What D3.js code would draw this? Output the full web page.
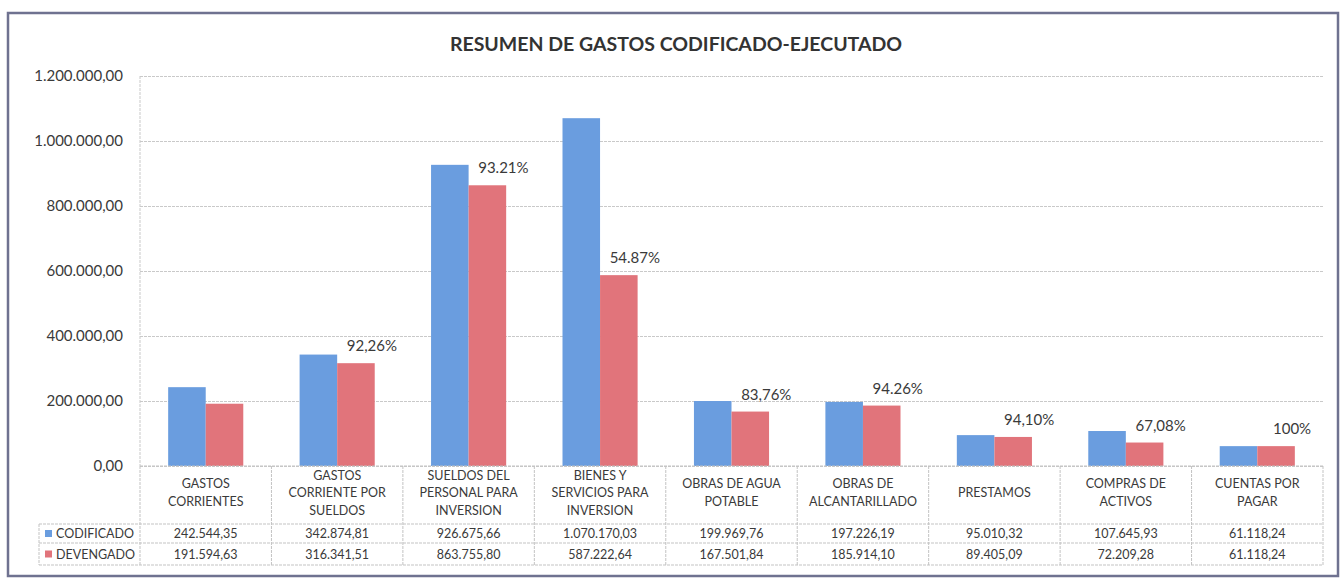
<!DOCTYPE html>
<html>
<head>
<meta charset="utf-8">
<script src="https://cdn.jsdelivr.net/npm/d3@7"></script>
<style>
  body { margin: 0; background: #fff; }
  text { font-family: Lato, "Open Sans", sans-serif; fill: #3a3a3a; }
</style>
</head>
<body>
<div id="chart"></div>
<script>
// chart data
var categories = [
  ["GASTOS", "CORRIENTES"],
  ["GASTOS", "CORRIENTE POR", "SUELDOS"],
  ["SUELDOS DEL", "PERSONAL PARA", "INVERSION"],
  ["BIENES Y", "SERVICIOS PARA", "INVERSION"],
  ["OBRAS DE AGUA", "POTABLE"],
  ["OBRAS DE", "ALCANTARILLADO"],
  ["PRESTAMOS"],
  ["COMPRAS DE", "ACTIVOS"],
  ["CUENTAS POR", "PAGAR"]
];
var seriesNames = ["CODIFICADO", "DEVENGADO"];
var codificado = [242544.35, 342874.81, 926675.66, 1070170.03, 199969.76, 197226.19, 95010.32, 107645.93, 61118.24];
var devengado = [191594.63, 316341.51, 863755.80, 587222.64, 167501.84, 185914.10, 89405.09, 72209.28, 61118.24];
var pctLabels = ["", "92,26%", "93.21%", "54.87%", "83,76%", "94.26%", "94,10%", "67,08%", "100%"];
var yTicks = [0, 200000, 400000, 600000, 800000, 1000000, 1200000];
var title = "RESUMEN DE GASTOS CODIFICADO-EJECUTADO";

var colors = ["#6a9ddf", "#e1747b"];

var W = 1343, H = 578;
var svg = d3.select("#chart")
            .append("svg")
            .attr("width", W)
            .attr("height", H);

// outer frame
svg.append("rect")
   .attr("x", 8).attr("y", 13)
   .attr("width", 1330).attr("height", 563)
   .attr("fill", "#fff")
   .attr("stroke", "#6f7290")
   .attr("stroke-width", 2.5);

// title
svg.append("text")
   .attr("x", 676)
   .attr("y", 51)
   .style("text-anchor", "middle")
   .style("font-size", "19.5px")
   .style("font-weight", "bold")
   .style("fill", "#333")
   .text(title);

// scales
var x = d3.scaleBand()
          .domain(d3.range(categories.length))
          .range([140, 1323]);

var xSub = d3.scaleBand()
             .domain(seriesNames)
             .range([0, x.bandwidth()])
             .paddingOuter(0.75);

var y = d3.scaleLinear()
          .domain([0, 1200000])
          .range([466, 76]);

var locale = d3.formatLocale({decimal: ",", thousands: ".", grouping: [3], currency: ["", ""]});
var fmt = locale.format(",.2f");

// gridlines + y labels
var yAxis = svg.append("g")
   .attr("transform", "translate(140,0)")
   .call(d3.axisLeft(y)
           .tickValues(yTicks)
           .tickSize(-(x.range()[1] - x.range()[0]))
           .tickPadding(17)
           .tickFormat(fmt));

yAxis.select(".domain").remove();
yAxis.selectAll(".tick line")
     .attr("stroke", "#c9c9c9")
     .attr("stroke-dasharray", "3,1");
yAxis.selectAll(".tick text")
     .style("font-size", "15px")
     .style("font-family", "Lato, sans-serif")
     .attr("fill", "#3a3a3a");

// left border of plot area
svg.append("line")
   .attr("x1", 140).attr("x2", 140)
   .attr("y1", y(1200000)).attr("y2", y(0))
   .attr("stroke", "#c9c9c9")
   .attr("stroke-dasharray", "3,1");

// bars
var rows = categories.map(function(c, i) {
  return [
    {cat: i, name: seriesNames[0], v: codificado[i]},
    {cat: i, name: seriesNames[1], v: devengado[i]}
  ];
});

svg.append("g")
   .selectAll("g")
   .data(rows)
   .enter()
   .append("g")
   .attr("transform", function(d, i) { return "translate(" + x(i) + ",0)"; })
   .selectAll("rect")
   .data(function(d) { return d; })
   .enter()
   .append("rect")
   .attr("x", function(d) { return xSub(d.name); })
   .attr("width", xSub.bandwidth())
   .attr("y", function(d) { return y(d.v); })
   .attr("height", function(d) { return y(0) - y(d.v); })
   .attr("fill", function(d, i) { return colors[i]; });

// percentage labels, placed above the DEVENGADO bar
svg.append("g")
   .selectAll("text")
   .data(pctLabels)
   .enter()
   .append("text")
   .attr("x", function(d, i) { return x(i) + xSub(seriesNames[1]) + xSub.bandwidth() / 2 + 16; })
   .attr("y", function(d, i) { return y(devengado[i]) - 12; })
   .style("text-anchor", "middle")
   .style("font-size", "15px")
   .text(function(d) { return d; });

// data table under the axis
var rowTop = y(0), rowHead = 524, rowOne = 543, rowTwo = 565, tableLeft = 39;
var tbl = svg.append("g")
             .attr("stroke", "#c3c3c3")
             .attr("stroke-width", 1)
             .attr("stroke-dasharray", "3,1");

tbl.append("line")
   .attr("x1", 140).attr("x2", x.range()[1])
   .attr("y1", rowTop).attr("y2", rowTop);

[rowHead, rowOne, rowTwo].forEach(function(yy) {
  tbl.append("line")
     .attr("x1", tableLeft).attr("x2", x.range()[1])
     .attr("y1", yy).attr("y2", yy);
});

tbl.append("line")
   .attr("x1", tableLeft).attr("x2", tableLeft)
   .attr("y1", rowHead).attr("y2", rowTwo);

d3.range(categories.length + 1).forEach(function(i) {
  var xx = x.range()[0] + i * x.step();
  tbl.append("line")
     .attr("x1", xx).attr("x2", xx)
     .attr("y1", rowTop).attr("y2", rowTwo);
});

// category names (header row)
var head = svg.append("g")
   .selectAll("text")
   .data(categories)
   .enter()
   .append("text")
   .attr("x", function(d, i) { return x(i) + x.bandwidth() / 2; })
   .attr("y", function(d) { return (rowTop + rowHead) / 2 + 2 - (d.length - 1) * 17.5 / 2; })
   .style("text-anchor", "middle")
   .style("font-size", "12.5px");

head.selectAll("tspan")
    .data(function(d) { return d; })
    .enter()
    .append("tspan")
    .attr("x", function() { return d3.select(this.parentNode).attr("x"); })
    .attr("dy", function(d, j) { return j == 0 ? 0 : 17.5; })
    .text(function(d) { return d; });

// value rows
var tableSeries = [codificado, devengado];
var rowMid = [(rowHead + rowOne) / 2, (rowOne + rowTwo) / 2];

tableSeries.forEach(function(vals, s) {
  svg.append("g")
     .selectAll("text")
     .data(vals)
     .enter()
     .append("text")
     .attr("x", function(d, i) { return x(i) + x.bandwidth() / 2; })
     .attr("y", rowMid[s] + 4.5)
     .style("text-anchor", "middle")
     .style("font-size", "12.5px")
     .text(function(d) { return fmt(d); });

  // legend key + series name
  svg.append("rect")
     .attr("x", 45)
     .attr("y", rowMid[s] - 3.5)
     .attr("width", 7).attr("height", 7)
     .attr("fill", colors[s]);

  svg.append("text")
     .attr("x", 56)
     .attr("y", rowMid[s] + 4.5)
     .style("font-size", "12.5px")
     .text(seriesNames[s]);
});
</script>
</body>
</html>
